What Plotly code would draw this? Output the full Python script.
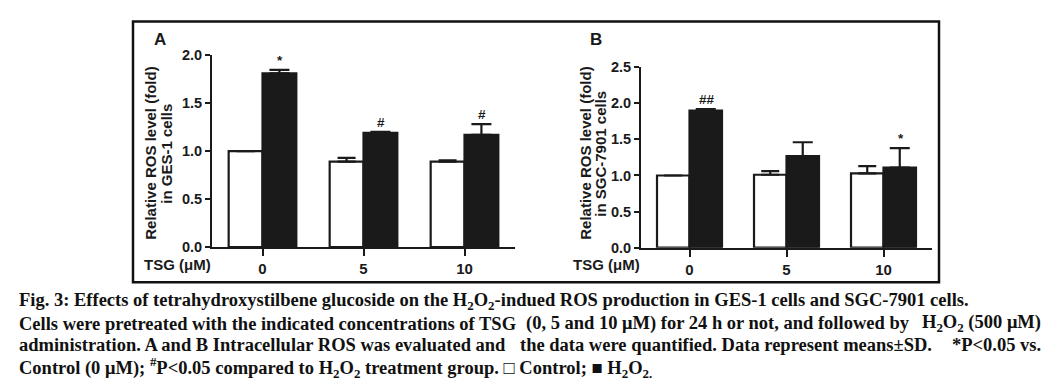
import plotly.graph_objects as go

# ---------------- data ----------------
categories = ["0", "5", "10"]

a_control = [1.00, 0.89, 0.89]
a_control_sd = [0.0, 0.04, 0.015]
a_h2o2 = [1.81, 1.19, 1.17]
a_h2o2_sd = [0.035, 0.01, 0.11]
a_marks = ["*", "#", "#"]

b_control = [1.00, 1.01, 1.03]
b_control_sd = [0.0, 0.05, 0.10]
b_h2o2 = [1.90, 1.27, 1.11]
b_h2o2_sd = [0.02, 0.19, 0.27]
b_marks = ["##", "", "*"]

a_ticks = [0.0, 0.5, 1.0, 1.5, 2.0]
b_ticks = [0.0, 0.5, 1.0, 1.5, 2.0, 2.5]

a_title = ["Relative ROS level (fold)", "in GES-1 cells"]
b_title = ["Relative ROS level (fold)", "in SGC-7901 cells"]

H2O2 = "H<sub>2</sub>O<sub>2</sub>"
caption_lines = [
    ["Fig. 3: Effects of tetrahydroxystilbene glucoside on the " + H2O2
     + "-indued ROS production in GES-1 cells and SGC-7901 cells."],
    ["Cells were pretreated with the indicated concentrations of TSG",
     "(0, 5 and 10 μM) for 24 h or not, and followed by",
     H2O2 + " (500 μM)"],
    ["administration. A and B Intracellular ROS was evaluated and",
     "the data were quantified. Data represent means±SD.",
     "*P&lt;0.05 vs."],
    ["Control (0 μM); <sup>#</sup>P&lt;0.05 compared to " + H2O2
     + " treatment group. □ Control; ■ H<sub>2</sub>O<sub>2.</sub>"],
]

W, H = 1057, 388
SANS = "Liberation Sans, Arial, sans-serif"
SERIF = "Liberation Serif, Times New Roman, serif"
INK = "#1a1a1a"

fig = go.Figure()


def px_x(p):
    return p / W


def px_y(p):
    return (H - p) / H


panels = [
    dict(xa="x", ya="y", ctrl=a_control, ctrl_sd=a_control_sd, h=a_h2o2, h_sd=a_h2o2_sd,
         marks=a_marks, xdom=[212, 515], ydom=[249.5, 49], yr=[0, 2.0], ticks=a_ticks,
         title=a_title, title_x=[151, 167], letter="A", letter_x=160),
    dict(xa="x2", ya="y2", ctrl=b_control, ctrl_sd=b_control_sd, h=b_h2o2, h_sd=b_h2o2_sd,
         marks=b_marks, xdom=[641, 932], ydom=[250, 61.7], yr=[0, 2.5], ticks=b_ticks,
         title=b_title, title_x=[586, 601], letter="B", letter_x=596),
]

for i, p in enumerate(panels):
    fig.add_trace(go.Bar(
        x=categories, y=p["ctrl"], name="Control", xaxis=p["xa"], yaxis=p["ya"],
        marker=dict(color="white", line=dict(color=INK, width=2.2)),
        error_y=dict(type="data", symmetric=False, array=p["ctrl_sd"],
                     arrayminus=[0] * 3, color=INK, thickness=2.2, width=9),
        showlegend=False,
    ))
    fig.add_trace(go.Bar(
        x=categories, y=p["h"], name="H2O2", xaxis=p["xa"], yaxis=p["ya"],
        marker=dict(color=INK, line=dict(color=INK, width=2.2)),
        error_y=dict(type="data", symmetric=False, array=p["h_sd"],
                     arrayminus=[0] * 3, color=INK, thickness=2.2, width=10),
        showlegend=False,
    ))

layout_axes = {}
for i, p in enumerate(panels):
    sfx = "" if i == 0 else "2"
    layout_axes["xaxis" + sfx] = dict(
        domain=[px_x(p["xdom"][0]), px_x(p["xdom"][1])],
        anchor="y" + sfx, type="category", range=[-0.5, 2.5],
        showline=True, linecolor=INK, linewidth=2,
        ticks="outside", ticklen=7, tickwidth=2, tickcolor=INK,
        tickfont=dict(family=SANS, size=15, color=INK, weight="bold"),
        showgrid=False, zeroline=False, fixedrange=True,
    )
    layout_axes["yaxis" + sfx] = dict(
        domain=[px_y(p["ydom"][0]), px_y(p["ydom"][1])],
        anchor="x" + sfx, range=p["yr"], tickvals=p["ticks"],
        ticktext=[f"{t:.1f}" for t in p["ticks"]],
        showline=True, linecolor=INK, linewidth=2,
        ticks="outside", ticklen=5, tickwidth=2, tickcolor=INK,
        tickfont=dict(family=SANS, size=14.5, color=INK, weight="bold"),
        showgrid=False, zeroline=False, fixedrange=True,
    )

annotations = []
for i, p in enumerate(panels):
    sfx = "" if i == 0 else "2"
    # significance marks (category axes: x given as index)
    for k, (v, e, m) in enumerate(zip(p["h"], p["h_sd"], p["marks"])):
        if m:
            annotations.append(dict(
                x=k, y=v + e, xref="x" + sfx, yref="y" + sfx, text=m, showarrow=False,
                xshift=17, xanchor="center", yanchor="bottom", yshift=0,
                font=dict(family=SANS, size=13.5, color=INK, weight="bold")))
    # panel letter
    annotations.append(dict(x=px_x(p["letter_x"]), y=px_y(33), xref="paper", yref="paper",
                            text=p["letter"], xanchor="center", yanchor="middle", showarrow=False,
                            font=dict(family=SANS, size=17, color=INK, weight="bold")))
    # y title, one annotation per line
    for line, tx in zip(p["title"], p["title_x"]):
        annotations.append(dict(x=px_x(tx), y=px_y(152), xref="paper", yref="paper",
                                text=line, textangle=-90, xanchor="center", yanchor="middle",
                                showarrow=False,
                                font=dict(family=SANS, size=15, color=INK, weight="bold")))
    # TSG label
    annotations.append(dict(x=px_x(p["xdom"][0] + 1), y=px_y(268), xref="paper", yref="paper",
                            text="TSG (μM)", xanchor="right", yanchor="middle", showarrow=False,
                            font=dict(family=SANS, size=15, color=INK, weight="bold")))

# caption (justified lines are split into chunks: left / middle / right)
caption_y = [306, 329.5, 352, 375]
chunk_mid_x = [None, 524, 518, None]
for chunks, yy, mid in zip(caption_lines, caption_y, chunk_mid_x):
    if len(chunks) == 1:
        places = [(17, "left")]
    else:
        places = [(17, "left"), (mid, "left"), (1043, "right")]
    for t, (xx, anc) in zip(chunks, places):
        annotations.append(dict(x=px_x(xx), y=px_y(yy), xref="paper", yref="paper",
                                text="<b>" + t + "</b>", xanchor=anc, yanchor="middle",
                                showarrow=False,
                                font=dict(family=SERIF, size=18.5, color="#111111")))

shapes = [dict(type="rect", xref="paper", yref="paper",
               x0=px_x(133), x1=px_x(939), y0=px_y(286), y1=px_y(14),
               line=dict(color="#111111", width=2.5))]

fig.update_layout(
    width=W, height=H, margin=dict(l=0, r=0, t=0, b=0),
    paper_bgcolor="white", plot_bgcolor="white",
    barmode="group", bargap=0.33, bargroupgap=0,
    annotations=annotations, shapes=shapes, **layout_axes,
)

fig.write_html("out.html", config={"displayModeBar": False},
               post_script="document.body.style.margin='0px';")
